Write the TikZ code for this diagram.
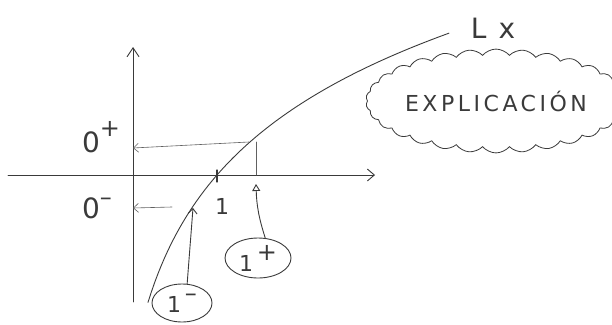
\documentclass[tikz,border=0pt]{standalone}
\usepackage{fontspec}
\setmainfont{DejaVu Sans}
\usetikzlibrary{arrows.meta,shapes.geometric,shapes.symbols}
\definecolor{pencil}{HTML}{3A3A3A}
\newcommand{\supp}[2][0.5em]{\raisebox{#1}{\fontsize{24}{24}\selectfont #2}}
\begin{document}
\begin{tikzpicture}[x=1pt,y=-1pt,
  pen/.style={draw=pencil, line width=0.9pt, line cap=round},
  thin pen/.style={draw=pencil!80, line width=0.6pt, line cap=round},
  barb/.style={-{Straight Barb[length=5pt,width=9pt]}},
  tri/.style={-{Triangle[open,length=7pt,width=8pt]}},
  lbl/.style={text=pencil, inner sep=0pt, font=\fontsize{28}{30}\selectfont},
  bubble/.style={ellipse, draw=pencil, line width=0.9pt, inner sep=1pt, text=pencil, font=\fontsize{22}{24}\selectfont}]
\useasboundingbox (0,0) rectangle (612,324);
% axes
\coordinate (xl) at (8,175);
\coordinate (xr) at (375,175);
\coordinate (yb) at (133,302);
\coordinate (yt) at (133,47);
\draw[pen, -{Straight Barb[length=7pt,width=12pt]}] (xl) -- (xr);
\draw[pen, -{Straight Barb[length=9pt,width=12pt]}] (yb) -- (yt);
% curve  y = 175 - 123 ln((x-110)/107)
\draw[pen] plot[domain=148:449, samples=90] (\x, {175-123*ln((\x-110)/107)});
\coordinate (cp) at (249,142);
\coordinate (cm) at (193,208);
% tick at 1
\draw[pen, line width=1.3pt] (217,170) -- (217,182);
% labels
\node[lbl] (Lx) at (493,28) {L\hspace{12pt}x};
\node[cloud, cloud puffs=30, cloud puff arc=100, aspect=2.8, draw=pencil, line width=0.8pt,
      minimum width=230pt, minimum height=82pt, inner sep=0pt, text=pencil,
      font=\fontsize{22}{24}\selectfont\addfontfeature{LetterSpace=16}] (expl) at (496,101) {EXPLICACIÓN};
\node[lbl] (zp) at (101,137) {0\supp[0.55em]{+}};
\node[lbl] (zm) at (97,208) {0\supp[0.45em]{–}};
\node[lbl, font=\fontsize{22}{24}\selectfont] (one) at (222,206) {1};
% projections
\coordinate (ap) at (133,148);
\coordinate (am) at (133,208);
\coordinate (m0) at (172,207);
\draw[thin pen, barb] (cp) -- (ap);
\draw[thin pen, barb] (m0) -- (am);
\coordinate (xp) at (256,175);
\draw[thin pen] (256,142) -- (xp);
% bubbles
\node[bubble, minimum width=66pt, minimum height=40pt] (op) at (258,258) {1\,\supp{+}};
\node[bubble, minimum width=60pt, minimum height=38pt] (om) at (182,303) {1\,\supp{–}};
\coordinate (tp) at (256,184);
\draw[pen, tri] (op.70) to[bend left=8] (tp);
\draw[pen, barb] (om.75) -- (cm);
\end{tikzpicture}
\end{document}
